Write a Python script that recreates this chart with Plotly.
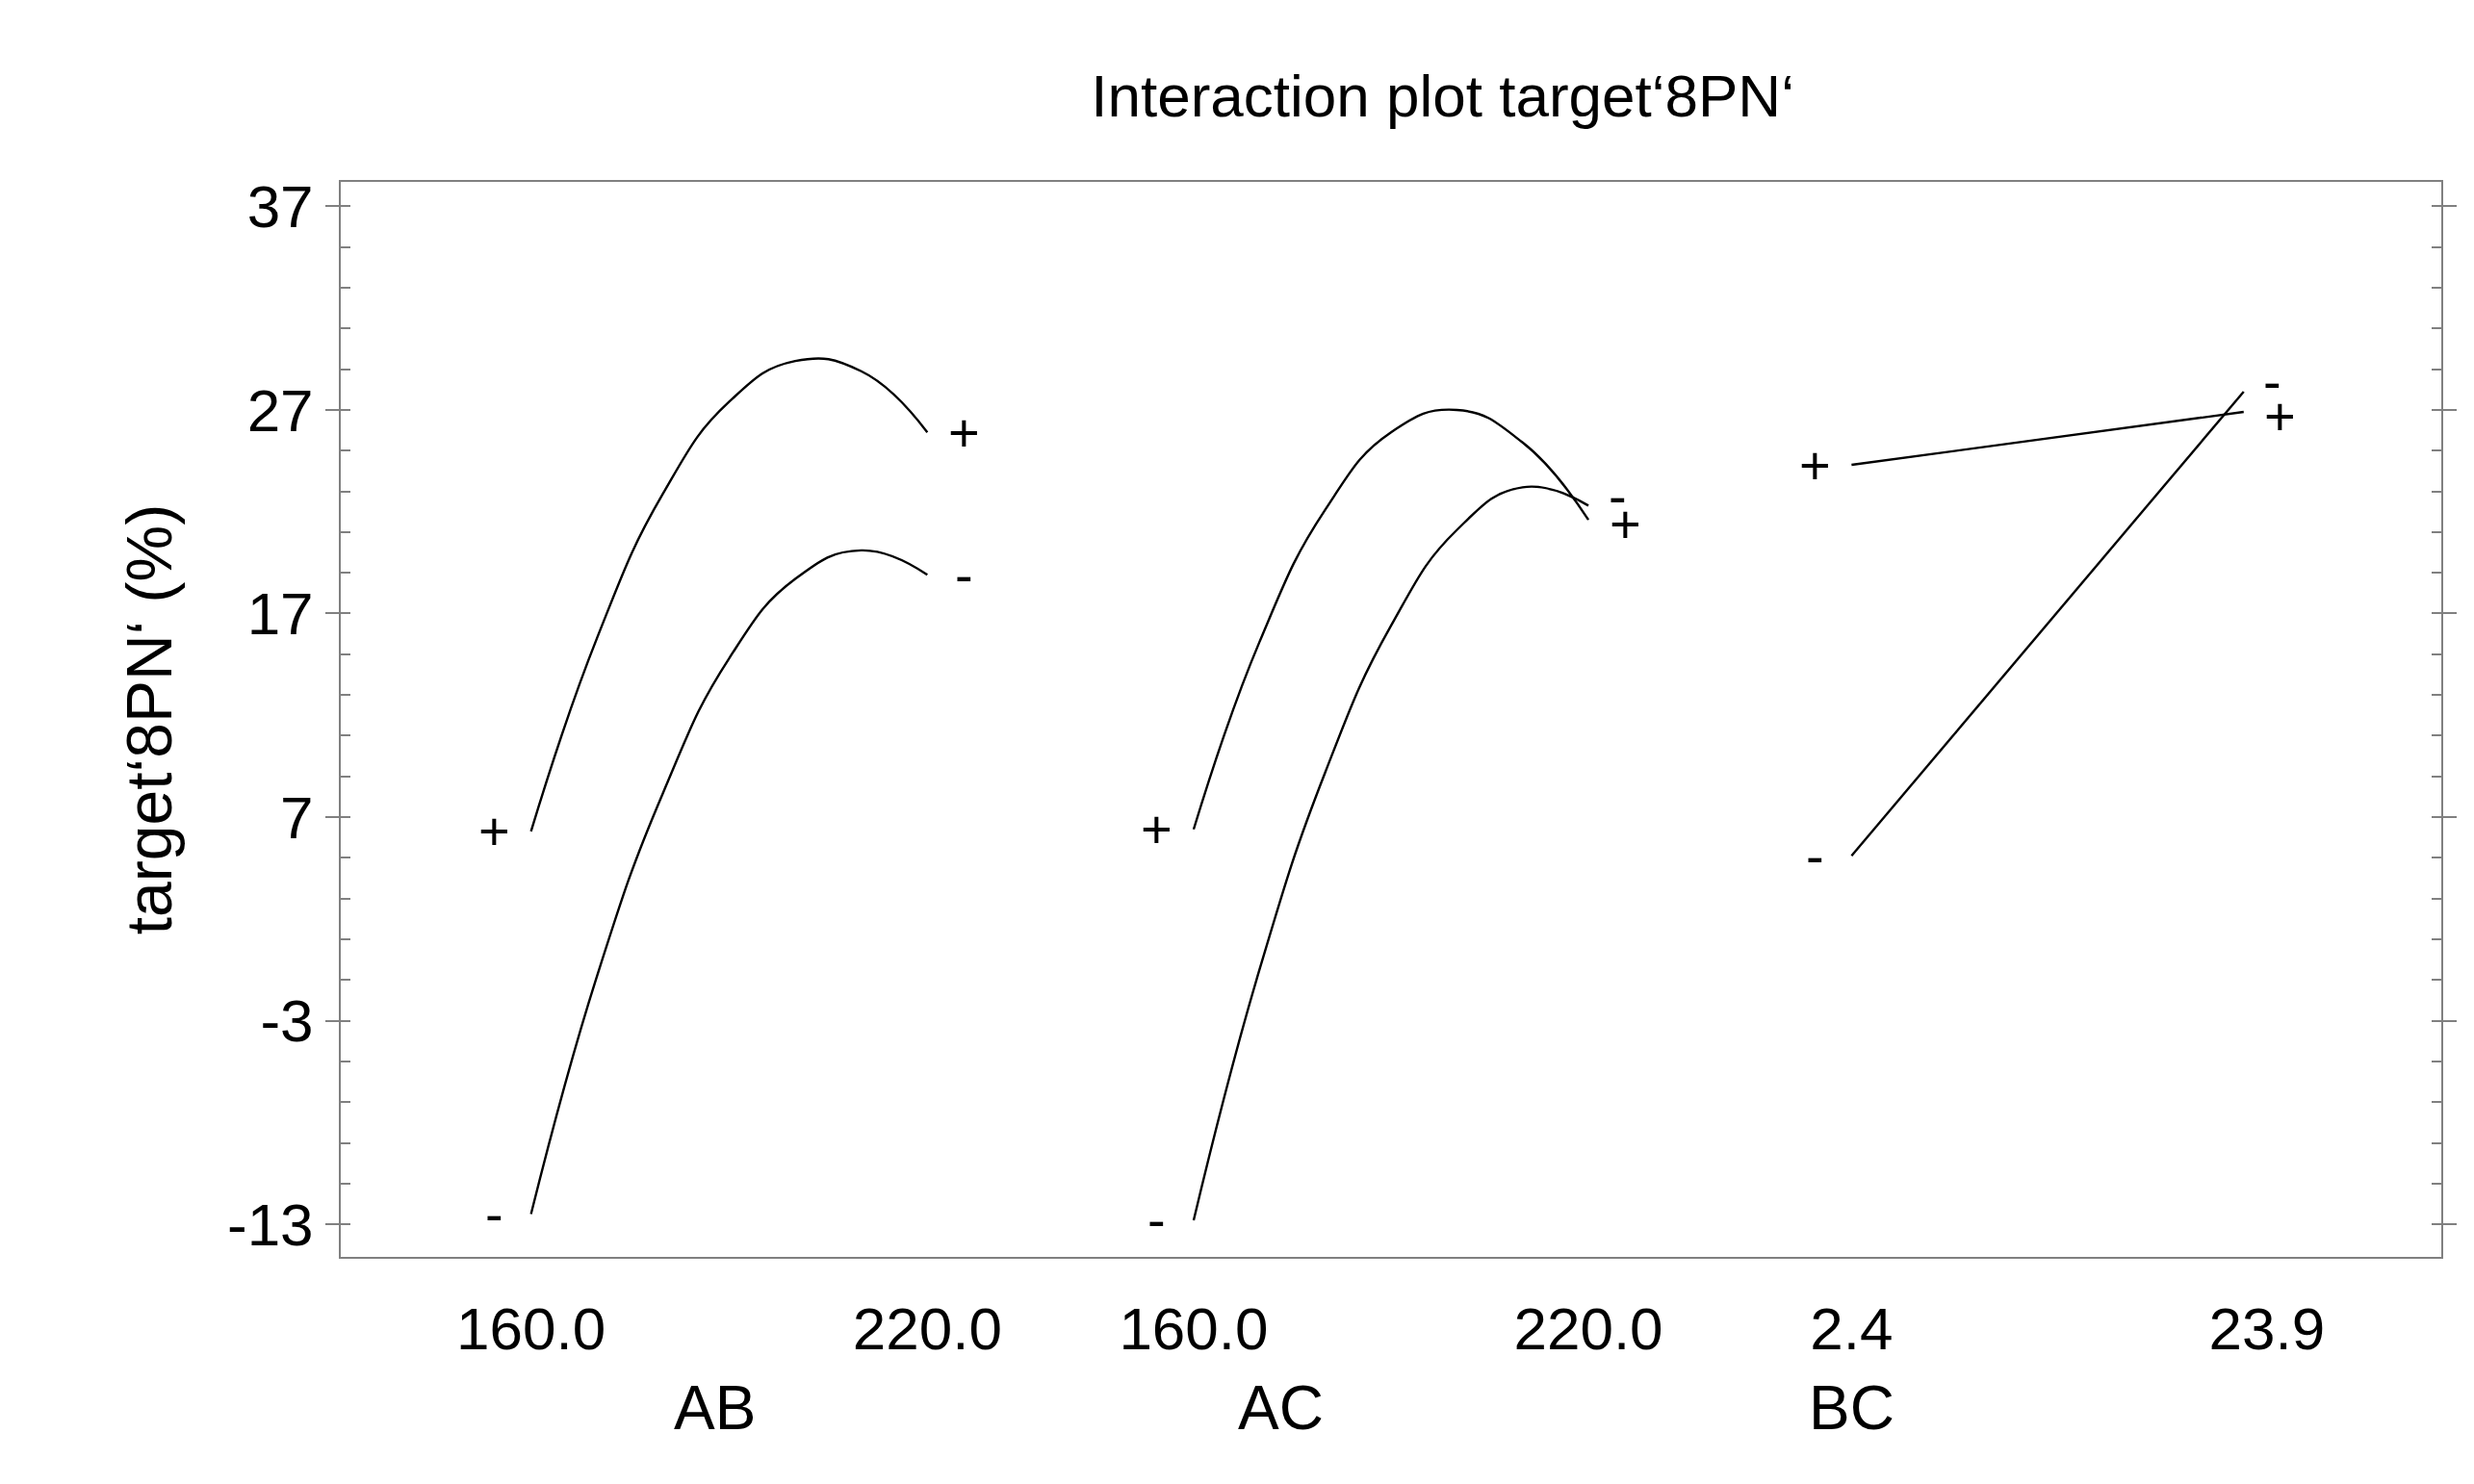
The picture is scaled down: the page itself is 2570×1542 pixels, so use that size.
import plotly.graph_objects as go

# Factor levels
temp_levels = [160, 170, 180, 190, 200, 210, 220]
ab_plus = [6.3, 15.8, 22.9, 27.4, 29.4, 28.9, 25.9]
ab_minus = [-12.5, -0.8, 8.2, 14.8, 18.7, 20.1, 18.9]
ac_plus = [6.4, 15.6, 22.1, 25.9, 27.0, 25.4, 21.6]
ac_minus = [-12.8, -0.5, 9.2, 16.4, 21.1, 23.2, 22.3]
bc_levels = [2.4, 22.7]
bc_plus = [24.3, 26.9]
bc_minus = [5.1, 27.9]
y_ticks = [-13, -3, 7, 17, 27, 37]
y_tick_labels = ["-13", "-3", "7", "17", "27", "37"]
panel_names = ["AB", "AC", "BC"]
x_tick_labels = ["160.0", "220.0", "160.0", "220.0", "2.4", "23.9"]

# panel placement on a shared horizontal axis
def pos_ab(v): return 330 + (v - 160) * 250 / 60
def pos_ac(v): return 748 + (v - 160) * 249 / 60
def pos_bc(v): return 1163 + (v - 2.4) * 262 / 21.5

fig = go.Figure()
line = dict(color="black", width=2.4)
series = [
    ([pos_ab(v) for v in temp_levels], ab_plus, "+", "+", 0),
    ([pos_ab(v) for v in temp_levels], ab_minus, "-", "-", 0),
    ([pos_ac(v) for v in temp_levels], ac_plus, "+", "+", -4),
    ([pos_ac(v) for v in temp_levels], ac_minus, "-", "-", 10),
    ([pos_bc(v) for v in bc_levels], bc_plus, "+", "+", -4),
    ([pos_bc(v) for v in bc_levels], bc_minus, "-", "-", 10),
]
for xs, ys, s0, s1, ysh in series:
    fig.add_trace(go.Scatter(x=xs, y=ys, mode="lines", line=dict(line, shape="spline", smoothing=1.3),
                             showlegend=False, hoverinfo="skip"))
    fig.add_annotation(x=xs[0], y=ys[0], text=s0, showarrow=False, xanchor="center",
                       xshift=-38, font=dict(size=56, color="black"))
    fig.add_annotation(x=xs[-1], y=ys[-1], text=s1, showarrow=False, xanchor="center",
                       xshift=38 + (-8 if s1 == "-" and ysh else 0), yshift=ysh,
                       font=dict(size=56, color="black"))

tickvals = [pos_ab(160), pos_ab(220), pos_ac(160), pos_ac(220), pos_bc(2.4), pos_bc(23.9)]
for name, xc in zip(panel_names, [446, 803, 1163]):
    fig.add_annotation(x=xc, y=0, yref="paper", yshift=-195, text=name, showarrow=False,
                       font=dict(size=64, color="black"))

fig.update_layout(
    width=2570, height=1542, plot_bgcolor="white", paper_bgcolor="white",
    font=dict(family="Liberation Sans, Arial", color="black"),
    margin=dict(l=346, r=42, t=181, b=244),
    title=dict(text="Interaction plot target‘8PN‘", x=0.58, xanchor="center", y=0.955,
               font=dict(size=62)),
    xaxis=dict(range=[210, 1535], tickvals=tickvals, ticktext=x_tick_labels, ticks="",
               showgrid=False, zeroline=False, showline=True, linecolor="gray", mirror=True,
               linewidth=2, tickfont=dict(size=62), ticklabelstandoff=20),
    yaxis=dict(range=[-14.6, 38.2], tickvals=y_ticks, ticktext=y_tick_labels, ticks="outside",
               ticklen=14, tickcolor="gray", tickwidth=2, showgrid=False, zeroline=False,
               showline=True, linecolor="gray", linewidth=2, mirror="ticks",
               tickfont=dict(size=62),
               minor=dict(dtick=2, tick0=-13, ticks="inside", ticklen=10, tickcolor="gray"),
               title=dict(text="target‘8PN‘ (%)", font=dict(size=66), standoff=36)),
)
fig.write_html("out.html")
